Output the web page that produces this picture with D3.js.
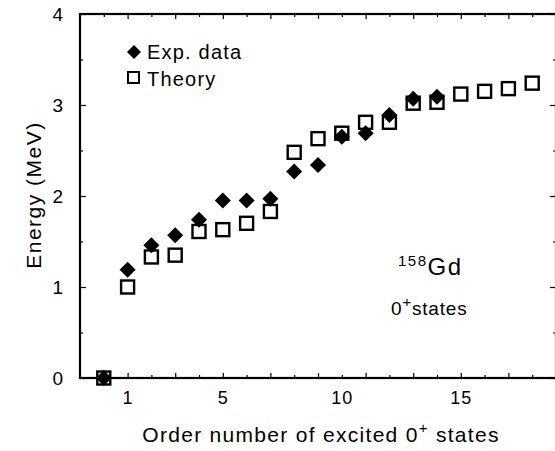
<!DOCTYPE html>
<html>
<head>
<meta charset="utf-8">
<script src="https://cdn.jsdelivr.net/npm/d3@7"></script>
<style>
body { margin: 0; background: #fff; }
text { font-family: "Liberation Sans", Arial, Helvetica, sans-serif; fill: #000; }
</style>
</head>
<body>
<script>
// order number of excited 0+ state
var expOrder = [0, 1, 2, 3, 4, 5, 6, 7, 8, 9, 10, 11, 12, 13, 14];
var expEnergy = [0, 1.19, 1.46, 1.57, 1.74, 1.95, 1.95, 1.97, 2.27, 2.34, 2.65, 2.69, 2.89, 3.07, 3.09];

var thOrder = [0, 1, 2, 3, 4, 5, 6, 7, 8, 9, 10, 11, 12, 13, 14, 15, 16, 17, 18];
var thEnergy = [0, 1.0, 1.33, 1.35, 1.61, 1.63, 1.70, 1.83, 2.48, 2.63, 2.69, 2.81, 2.81, 3.02, 3.03, 3.12, 3.15, 3.18, 3.24];

var xLabelTicks = [1, 5, 10, 15];
var xMajorTicks = [1, 3, 5, 7, 9, 11, 13, 15, 17];
var xMinorTicks = [0, 2, 4, 6, 8, 10, 12, 14, 16, 18];
var yTicks = [0, 1, 2, 3, 4];
var yMinorTicks = [0.5, 1.5, 2.5, 3.5];

var w = 555;
var h = 451;
var pLeft = 80, pRight = 556, pTop = 14, pBottom = 378;

var svg = d3.select("body")
			.append("svg")
			.attr("width", w)
			.attr("height", h);

var xScale = d3.scaleLinear()
				.domain([-1, 19])
				.range([pLeft, pRight]);

var yScale = d3.scaleLinear()
				.domain([0, 4])
				.range([pBottom, pTop]);

function styleAxis(g){
	g.select(".domain").remove();
	g.selectAll(".tick line").attr("stroke", "#000").attr("stroke-width", 1.2);
}

// bottom / top tick marks (inward)
svg.append("g")
	.attr("transform", "translate(0," + pBottom + ")")
	.call(d3.axisBottom(xScale).tickValues(xMajorTicks).tickSize(-5).tickFormat(""))
	.call(styleAxis);
svg.append("g")
	.attr("transform", "translate(0," + pBottom + ")")
	.call(d3.axisBottom(xScale).tickValues(xMinorTicks).tickSize(-3).tickFormat(""))
	.call(styleAxis);
svg.append("g")
	.attr("transform", "translate(0," + pTop + ")")
	.call(d3.axisTop(xScale).tickValues(xMajorTicks).tickSize(-5).tickFormat(""))
	.call(styleAxis);
svg.append("g")
	.attr("transform", "translate(0," + pTop + ")")
	.call(d3.axisTop(xScale).tickValues(xMinorTicks).tickSize(-3).tickFormat(""))
	.call(styleAxis);

// x labels
svg.append("g")
	.attr("transform", "translate(0," + pBottom + ")")
	.call(d3.axisBottom(xScale).tickValues(xLabelTicks).tickSize(0).tickPadding(13).tickFormat(d3.format("d")))
	.call(styleAxis)
	.selectAll("text")
	.attr("font-size", 18)
	.attr("letter-spacing", 1);

// y ticks left and right
svg.append("g")
	.attr("transform", "translate(" + pLeft + ",0)")
	.call(d3.axisLeft(yScale).tickValues(yTicks).tickSize(-6).tickPadding(17).tickFormat(d3.format("d")))
	.call(styleAxis)
	.selectAll("text")
	.attr("font-size", 19);
svg.append("g")
	.attr("transform", "translate(" + pLeft + ",0)")
	.call(d3.axisLeft(yScale).tickValues(yMinorTicks).tickSize(-3).tickFormat(""))
	.call(styleAxis);
svg.append("g")
	.attr("transform", "translate(" + pRight + ",0)")
	.call(d3.axisRight(yScale).tickValues(yTicks).tickSize(-6).tickFormat(""))
	.call(styleAxis);
svg.append("g")
	.attr("transform", "translate(" + pRight + ",0)")
	.call(d3.axisRight(yScale).tickValues(yMinorTicks).tickSize(-3).tickFormat(""))
	.call(styleAxis);

// frame
svg.append("rect")
	.attr("x", pLeft)
	.attr("y", pTop)
	.attr("width", pRight - pLeft)
	.attr("height", pBottom - pTop)
	.attr("fill", "none")
	.attr("stroke", "#000")
	.attr("stroke-width", 2.2);

var thData = thOrder.map(function(d, i){ return {x: d, y: thEnergy[i]}; });
var expData = expOrder.map(function(d, i){ return {x: d, y: expEnergy[i]}; });

svg.selectAll(".th")
	.data(thData)
	.enter()
	.append("rect")
	.attr("class", "th")
	.attr("x", function(d){ return xScale(d.x) - 6.5; })
	.attr("y", function(d){ return yScale(d.y) - 6.5; })
	.attr("width", 13)
	.attr("height", 13)
	.attr("fill", "none")
	.attr("stroke", "#000")
	.attr("stroke-width", 2.4);

var diamond = "M0,-8L8,0L0,8L-8,0Z";

svg.selectAll(".exp")
	.data(expData)
	.enter()
	.append("path")
	.attr("class", "exp")
	.attr("d", diamond)
	.attr("transform", function(d){ return "translate(" + xScale(d.x) + "," + yScale(d.y) + ")"; })
	.attr("fill", "#000");

// legend
svg.append("path")
	.attr("d", "M0,-7L7,0L0,7L-7,0Z")
	.attr("transform", "translate(134,52)")
	.attr("fill", "#000");
svg.append("text")
	.attr("x", 147)
	.attr("y", 59)
	.attr("font-size", 20)
	.attr("letter-spacing", 1.2)
	.text("Exp. data");
svg.append("rect")
	.attr("x", 128)
	.attr("y", 72)
	.attr("width", 11)
	.attr("height", 11)
	.attr("fill", "none")
	.attr("stroke", "#000")
	.attr("stroke-width", 2);
svg.append("text")
	.attr("x", 147)
	.attr("y", 86)
	.attr("font-size", 20)
	.attr("letter-spacing", 1.2)
	.text("Theory");

// nucleus annotation
var nuc = svg.append("text")
	.attr("x", 398)
	.attr("y", 275)
	.attr("letter-spacing", 1.5);
nuc.append("tspan").attr("font-size", 15).attr("dy", -9).text("158");
nuc.append("tspan").attr("font-size", 24).attr("dy", 9).text("Gd");

var st = svg.append("text")
	.attr("x", 391)
	.attr("y", 315)
	.attr("font-size", 19)
	.attr("letter-spacing", 0.8);
st.append("tspan").text("0");
st.append("tspan").attr("font-size", 15).attr("dy", -8).text("+");
st.append("tspan").attr("dy", 8).text("states");

// axis titles
var xt = svg.append("text")
	.attr("x", 321)
	.attr("y", 442)
	.attr("text-anchor", "middle")
	.attr("font-size", 21)
	.attr("letter-spacing", 1.3);
xt.append("tspan").text("Order number of excited 0");
xt.append("tspan").attr("font-size", 15).attr("dy", -9).text("+");
xt.append("tspan").attr("dy", 9).text(" states");

svg.append("text")
	.attr("x", 0)
	.attr("y", 0)
	.attr("text-anchor", "middle")
	.attr("font-size", 21)
	.attr("letter-spacing", 1.5)
	.attr("transform", "translate(41,195) rotate(-90)")
	.text("Energy (MeV)");
</script>
</body>
</html>
